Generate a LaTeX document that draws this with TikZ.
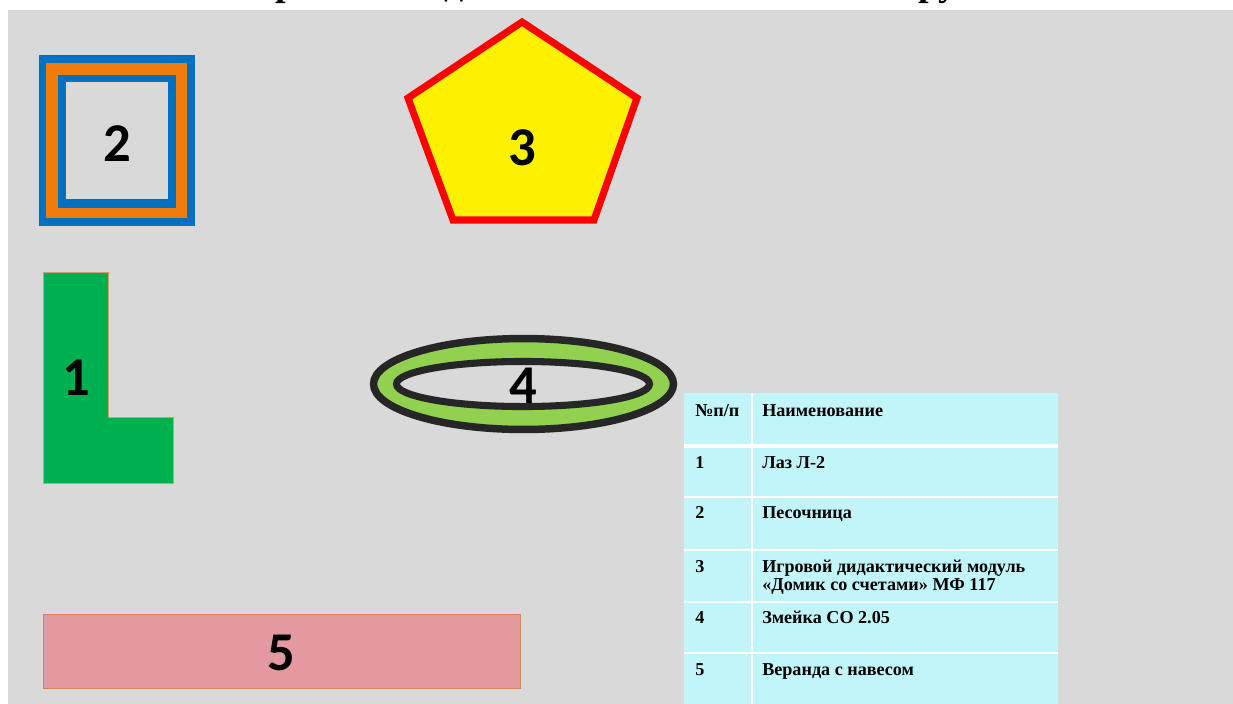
\documentclass[tikz,border=0pt]{standalone}
\usepackage{fontspec}
\setmainfont{Liberation Serif}
\newfontfamily\numfont{Carlito}
\definecolor{bggray}{HTML}{D9D9D9}
\definecolor{sqblue}{HTML}{0070C0}
\definecolor{sqorange}{HTML}{F07D0A}
\definecolor{lgreen}{HTML}{00B050}
\definecolor{lborder}{HTML}{C8A070}
\definecolor{ringgreen}{HTML}{92D050}
\definecolor{ringdark}{HTML}{262626}
\definecolor{verpink}{HTML}{E499A1}
\definecolor{verborder}{HTML}{D9825A}
\definecolor{tabcyan}{HTML}{C2F5FA}
\tikzset{
  num/.style={font=\numfont\bfseries\fontsize{41}{41}\selectfont, inner sep=0pt},
  cell/.style={font=\bfseries\fontsize{13.6}{15}\selectfont, anchor=base west, inner sep=0pt},
  sep/.style={draw=white, line width=1.1pt}
}
\begin{document}
\begin{tikzpicture}[x=0.75pt,y=-0.75pt]
\useasboundingbox (0,0) rectangle (1233,704);
\fill[white] (0,0) rectangle (1233,704);
% title (cut off by page top)
\node[font=\bfseries\fontsize{28.5}{30}\selectfont, anchor=base, inner sep=0pt] (title) at (595,-5) {Схема разметки для занятий на местности группы};
\fill[bggray] (8,10) rectangle (1233,704);
% 2 : sandbox
\fill[sqblue] (39,55) rectangle (195,226);
\fill[sqorange] (46,63) rectangle (187,218);
\fill[sqblue] (58,75) rectangle (176,208);
\fill[bggray] (66,82) rectangle (168,199);
\node[num] (n2) at (117,144) {2};
% 3 : pentagon
\draw[draw=red, fill=yellow, line width=5.3pt, line join=miter]
  (522,22) -- (637,98) -- (594,220) -- (453,220) -- (408,98) -- cycle;
\node[num] (n3) at (522,148) {3};
% 1 : L shape
\draw[draw=lborder, fill=lgreen, line width=0.75pt]
  (43,272) -- (108,272) -- (108,417) -- (173,417) -- (173,483) -- (43,483) -- cycle;
\node[num] (n1) at (76,378) {1};
% 4 : ring
\draw[draw=ringdark, fill=ringgreen, line width=5.6pt] (523.5,384) ellipse [x radius=112.5pt, y radius=34.1pt];
\draw[draw=ringdark, fill=bggray, line width=5.3pt] (523,384) ellipse [x radius=94.9pt, y radius=16.9pt];
\node[num] (n4) at (523,386) {4};
% 5 : veranda
\draw[draw=verborder, fill=verpink, line width=0.75pt] (43,614) rectangle (520,688);
\node[num] (n5) at (281,653) {5};
% table
\fill[tabcyan] (684,393) rectangle (1058,704);
\draw[sep] (752,393) -- (752,704);
\draw[draw=white, line width=2.4pt] (684,446) -- (1058,446);
\draw[sep] (684,497) -- (1058,497);
\draw[sep] (684,550) -- (1058,550);
\draw[sep] (684,602) -- (1058,602);
\draw[sep] (684,653) -- (1058,653);
\node[cell] (h1) at (695,416) {№п/п};
\node[cell] (h2) at (762,416) {Наименование};
\node[cell] (r1a) at (695,468) {1};
\node[cell] (r1b) at (762,468) {Лаз Л-2};
\node[cell] (r2a) at (695,518) {2};
\node[cell] (r2b) at (762,518) {Песочница};
\node[cell] (r3a) at (695,572) {3};
\node[cell] (r3b) at (762,572) {Игровой дидактический модуль};
\node[cell] (r3c) at (762,590) {«Домик со счетами» МФ 117};
\node[cell] (r4a) at (695,623) {4};
\node[cell] (r4b) at (762,623) {Змейка СО 2.05};
\node[cell] (r5a) at (695,675) {5};
\node[cell] (r5b) at (762,675) {Веранда с навесом};
\end{tikzpicture}
\end{document}
